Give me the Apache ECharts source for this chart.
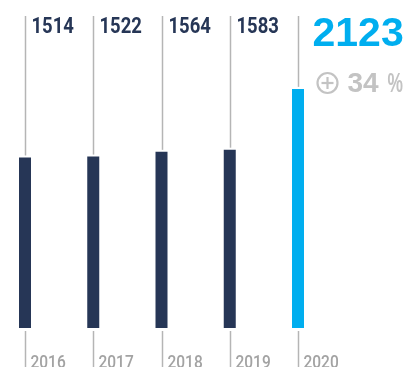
<!DOCTYPE html>
<html>
<head>
<meta charset="utf-8">
<script src="https://cdn.jsdelivr.net/npm/echarts@6/dist/echarts.min.js"></script>
<style>
  html, body { margin: 0; padding: 0; background: #fff; }
  #chart { width: 411px; height: 367px; }
</style>
</head>
<body>
<div id="chart"></div>
<script>
// Yearly totals, 2016–2020
const years = ['2016', '2017', '2018', '2019', '2020'];
const totals = [1514, 1522, 1564, 1583, 2123];

const NAVY = '#263656';
const BLUE = '#00aeef';
const RULE = '#b5b5b5';
const GREY = '#c3c3c3';
const COND = 'Roboto, "Liberation Sans", sans-serif';
const WIDE = '"Liberation Sans", Arial, sans-serif';

const last = totals.length - 1;
const growth = Math.round((totals[last] / totals[last - 1] - 1) * 100);

const chart = echarts.init(document.getElementById('chart'), null, { renderer: 'canvas' });

chart.setOption({
  animation: false,
  grid: { left: 25, right: 113, top: 16, bottom: 39, outerBoundsMode: 'none' },
  xAxis: {
    type: 'category',
    data: years,
    boundaryGap: false,
    axisLine: { show: false },
    axisTick: { show: false },
    splitLine: { show: false },
    axisLabel: { show: false }
  },
  yAxis: {
    type: 'value',
    min: 0,
    max: 2770,
    show: false,
    splitLine: { show: false }
  },
  series: [
    {
      // leader rules above and below each bar, value label on top, year at the foot
      type: 'custom',
      clip: false,
      z: 1,
      data: totals.map((v, i) => [i, v]),
      renderItem(params, api) {
        const i = api.value(0);
        const v = api.value(1);
        const x = Math.round(api.coord([i, 0])[0]) + 0.5;
        const y0 = api.coord([i, 0])[1];
        const yTop = api.coord([i, v])[1];
        const top = params.coordSys.y;
        const isLast = params.dataIndex === last;
        const children = [
          { type: 'line', shape: { x1: x, y1: top, x2: x, y2: yTop - 2 },
            style: { stroke: RULE, lineWidth: 1.5 } },
          { type: 'line', shape: { x1: x, y1: y0 + 3, x2: x, y2: api.getHeight() },
            style: { stroke: RULE, lineWidth: 1.5 } },
          { type: 'text', x: x + 5, y: y0 + 26, scaleX: 0.86,
            style: { text: years[i], fill: '#a3a3a3', font: '500 18px ' + COND, verticalAlign: 'top' } }
        ];
        if (isLast) {
          children.push({
            type: 'text', x: x + 14, y: top - 2,
            style: { text: String(v), fill: BLUE, font: 'bold 41px ' + WIDE, verticalAlign: 'top' }
          });
          // circled plus sign in front of the growth figure
          children.push({
            type: 'circle', shape: { cx: x + 29, cy: top + 67, r: 10 },
            style: { fill: 'none', stroke: GREY, lineWidth: 2.2 }
          });
          children.push({
            type: 'line', shape: { x1: x + 23, y1: top + 67, x2: x + 35, y2: top + 67 },
            style: { stroke: GREY, lineWidth: 2.2 }
          });
          children.push({
            type: 'line', shape: { x1: x + 29, y1: top + 61, x2: x + 29, y2: top + 73 },
            style: { stroke: GREY, lineWidth: 2.2 }
          });
          children.push({
            type: 'text', x: x + 49, y: top + 54,
            style: { text: String(growth), fill: GREY, font: 'bold 28px ' + WIDE, verticalAlign: 'top' }
          });
          children.push({
            type: 'text', x: x + 89, y: top + 54, scaleX: 0.62,
            style: { text: '%', fill: GREY, font: 'bold 28px ' + WIDE, verticalAlign: 'top' }
          });
        } else {
          children.push({
            type: 'text', x: x + 6, y: top, scaleX: 0.84,
            style: { text: String(v), fill: NAVY, font: 'bold 22px ' + COND, verticalAlign: 'top' }
          });
        }
        return { type: 'group', children };
      }
    },
    {
      type: 'bar',
      z: 2,
      barWidth: 12,
      data: totals.map((v, i) => ({
        value: v,
        itemStyle: { color: i === last ? BLUE : NAVY }
      }))
    }
  ]
});
</script>
</body>
</html>
